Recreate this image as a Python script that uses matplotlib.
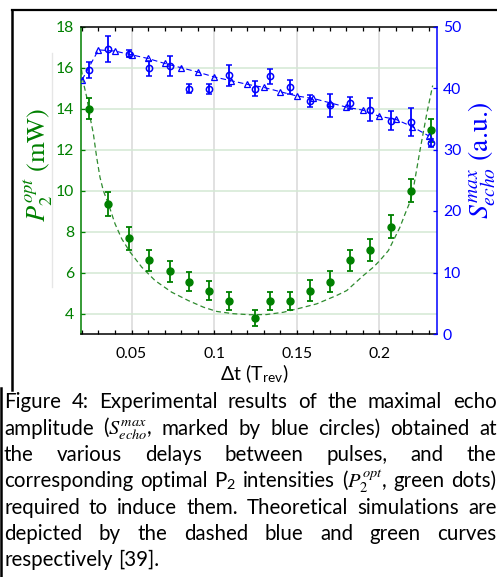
import matplotlib
matplotlib.use('Agg')
import matplotlib.pyplot as plt
from matplotlib.lines import Line2D
from matplotlib.ticker import MultipleLocator

plt.rcParams['mathtext.fontset'] = 'custom'
plt.rcParams['mathtext.rm'] = 'STIXGeneral'
plt.rcParams['mathtext.it'] = 'STIXGeneral:italic'
plt.rcParams['mathtext.bf'] = 'STIXGeneral:bold'
plt.rcParams['mathtext.sf'] = 'Lato'
plt.rcParams['font.family'] = ['Lato', 'DejaVu Sans']

# ---------------- data ----------------
delay_exp = [0.024, 0.036, 0.0485, 0.0605, 0.073, 0.085, 0.097, 0.109, 0.125,
             0.134, 0.146, 0.158, 0.170, 0.182, 0.1945, 0.207, 0.219, 0.231]
p2_opt = [14.0, 9.35, 7.67, 6.59, 6.05, 5.56, 5.11, 4.62, 3.79,
          4.62, 4.62, 5.11, 5.56, 6.59, 7.11, 8.24, 10.0, 12.93]
p2_err = [0.50, 0.57, 0.55, 0.52, 0.52, 0.48, 0.47, 0.45, 0.40,
          0.45, 0.45, 0.50, 0.50, 0.52, 0.54, 0.57, 0.55, 0.55]
echo_max = [42.9, 46.4, 45.6, 43.2, 43.6, 39.9, 39.8, 42.1, 39.9,
            41.9, 40.2, 37.9, 37.2, 37.6, 36.5, 34.7, 34.5, 31.1]
echo_err = [1.27, 2.1, 0.5, 1.27, 1.6, 0.67, 0.78, 1.7, 1.16,
            1.27, 1.14, 0.95, 1.84, 1.0, 1.9, 1.57, 2.25, 0.67]

delay_sim = [0.02, 0.03, 0.04, 0.05, 0.06, 0.07, 0.08, 0.09, 0.10, 0.11, 0.12,
             0.13, 0.14, 0.15, 0.16, 0.17, 0.18, 0.19, 0.20, 0.21, 0.22, 0.23]
echo_sim = [41.3, 46.2, 46.0, 45.4, 44.8, 44.0, 43.3, 42.6, 41.8, 41.2, 40.6,
            40.1, 39.4, 38.7, 38.3, 37.6, 36.9, 36.4, 35.4, 34.9, 33.7, 32.2]

delay_p2sim = [0.0197, 0.0208, 0.0229, 0.0249, 0.0269, 0.0289, 0.0309, 0.0329,
               0.0362, 0.040, 0.0441, 0.0491, 0.0562, 0.0642, 0.0743, 0.0844,
               0.0935, 0.1016, 0.1116, 0.1217, 0.1318, 0.1419, 0.1520, 0.1621,
               0.1742, 0.1803, 0.1903, 0.1964, 0.2004, 0.2055, 0.2095, 0.2125,
               0.2156, 0.2186, 0.2204, 0.2246, 0.2287, 0.2323]
p2_sim = [15.9, 15.28, 14.55, 13.58, 12.77, 11.62, 10.65, 10.0,
          9.3, 8.38, 7.64, 7.0, 6.26, 5.61, 5.04, 4.63,
          4.31, 4.10, 3.99, 3.94, 3.95, 4.06, 4.26, 4.47,
          4.88, 5.12, 5.85, 6.26, 6.59, 7.07, 7.72, 8.21,
          8.86, 9.45, 10.0, 11.95, 13.74, 15.12]

x_major = [0.05, 0.1, 0.15, 0.2]
x_labels = ['0.05', '0.1', '0.15', '0.2']
left_ticks = [4, 6, 8, 10, 12, 14, 16, 18]
right_ticks = [0, 10, 20, 30, 40, 50]

caption_lines = [
    "Figure 4: Experimental results of the maximal echo",
    "amplitude ($S_{echo}^{max}$, marked by blue circles) obtained at",
    "the various delays between pulses, and the",
    "corresponding optimal P$_\\mathsf{2}$ intensities ($P_2^{opt}$, green dots)",
    "required to induce them. Theoretical simulations are",
    "depicted by the dashed blue and green curves",
    "respectively [39].",
]

GREEN = '#008000'
BLUE = '#0000ff'

W, H = 497, 577
fig = plt.figure(figsize=(W / 100, H / 100), dpi=100)

L, R, T, B = 81.3, 437.3, 26.5, 334.0
ax = fig.add_axes([L / W, 1 - B / H, (R - L) / W, (B - T) / H])
ax2 = ax.twinx()

ax.set_xlim(0.0196, 0.2351)
ax.set_ylim(3, 18)
ax2.set_ylim(0, 50)

# grid
for xv in x_major:
    ax.axvline(xv, color='#d9d9d9', lw=1.1, zorder=0)
for yv in left_ticks[:-1]:
    ax.axhline(yv, color='#d3e8d3', lw=1.1, zorder=0)

# green
ax.plot(delay_p2sim, p2_sim, ls=(0, (4, 2.6)), color='#2e8b2e', lw=0.9, zorder=2)
ax.errorbar(delay_exp, p2_opt, yerr=p2_err, fmt='o', color=GREEN, ms=5,
            capsize=2.4, elinewidth=1.3, capthick=1.3, zorder=3)

# blue
ax2.plot(delay_sim, echo_sim, ls=(0, (5, 3)), color=BLUE, lw=0.8,
         marker='^', mfc='none', mec=BLUE, ms=4.5, mew=0.9, zorder=2)
ax2.errorbar(delay_exp, echo_max, yerr=echo_err, fmt='o', color=BLUE, mfc='none',
             mec=BLUE, ms=4.5, mew=1.1, capsize=2.4, elinewidth=1.3, capthick=1.3,
             zorder=3)

# axes styling
ax.set_xticks(x_major)
ax.set_xticklabels(x_labels)
ax.xaxis.set_minor_locator(MultipleLocator(0.01))
ax.set_yticks(left_ticks)
ax2.set_yticks(right_ticks)

ax.tick_params(axis='x', which='both', direction='in', top=True, bottom=True,
               length=3, width=0.9, colors='black', labelsize=11.3, pad=9)
ax.tick_params(axis='y', which='both', direction='in', left=True, right=False,
               length=3, width=0.9, colors=GREEN, labelsize=11.3, pad=5)
ax2.tick_params(axis='y', which='both', direction='in', right=True, left=False,
                length=3, width=0.9, colors=BLUE, labelsize=11.3, pad=4)

ax.spines['left'].set_color(GREEN)
ax.spines['right'].set_visible(False)
for s in ['left', 'top', 'bottom']:
    ax2.spines[s].set_visible(False)
ax2.spines['right'].set_color(BLUE)
for sp in list(ax.spines.values()) + [ax2.spines['right']]:
    sp.set_linewidth(1.1)

# axis labels
fig.text(38.5 / W, 1 - 165 / H, r'$P_2^{opt}$ (mW)', rotation=90, ha='center',
         va='center', color=GREEN, fontsize=19, fontfamily='STIXGeneral')
fig.text(482 / W, 1 - 160 / H, r'$S_{echo}^{max}$ (a.u.)', rotation=90,
         ha='center', va='center', color=BLUE, fontsize=20, fontfamily='STIXGeneral')
fig.text(254 / W, 1 - 380 / H, r'Δt (T$_\mathsf{rev}$)', ha='center',
         va='baseline', color='black', fontsize=14)

# frame lines
fig.add_artist(Line2D([11.5 / W, 1], [1 - 10 / H, 1 - 10 / H], color='black', lw=1.6))
fig.add_artist(Line2D([12 / W, 12 / W], [1 - 10 / H, 1 - 390 / H], color='black', lw=1.8))
fig.add_artist(Line2D([1.2 / W, 1.2 / W], [1 - 388 / H, 0], color='black', lw=1.8))
fig.add_artist(Line2D([52 / W, 52 / W], [1 - 53 / H, 1 - 287 / H], color='#e6e6e6', lw=1.0))

# caption with full justification
fig.canvas.draw()
rend = fig.canvas.get_renderer()
cap_fs = 14.8
x0, x1 = 4.0, 496.5
base0, dy = 408.3, 26.3


def width_of(s):
    t = fig.text(0, 0, s, fontsize=cap_fs)
    w = t.get_window_extent(rend).width
    t.remove()
    return w


space_w = width_of('a a') - width_of('aa')
for i, line in enumerate(caption_lines):
    y = 1 - (base0 + i * dy) / H
    words = line.split(' ')
    widths = [width_of(w) for w in words]
    if i < len(caption_lines) - 1 and len(words) > 1:
        gap = (x1 - x0 - sum(widths)) / (len(words) - 1)
    else:
        gap = space_w
    xp = x0
    for w, wd in zip(words, widths):
        fig.text(xp / W, y, w, fontsize=cap_fs, ha='left', va='baseline', color='black')
        xp += wd + gap

fig.savefig('out.png', dpi=100)
